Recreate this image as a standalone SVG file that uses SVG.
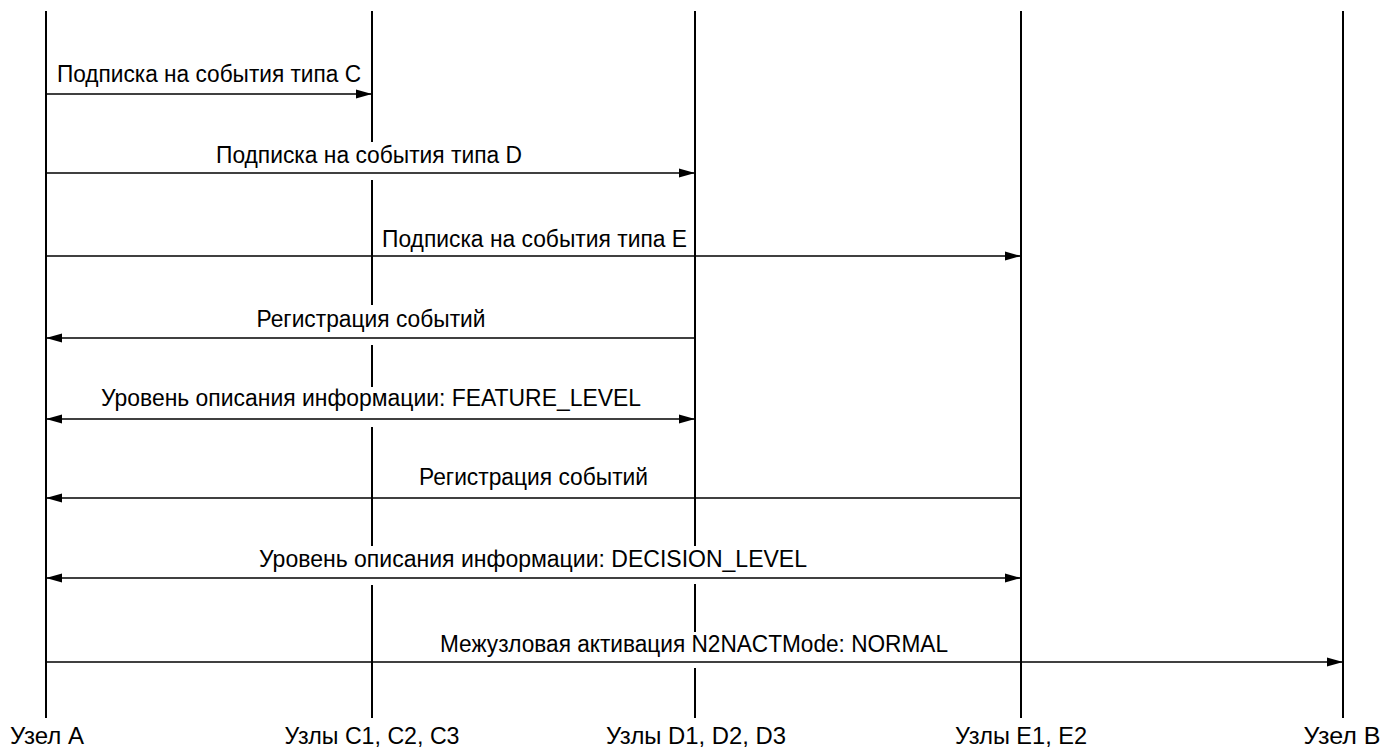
<svg xmlns="http://www.w3.org/2000/svg" width="1399" height="752" viewBox="0 0 1399 752">
<style>
.life{stroke:#000;stroke-width:2;fill:none}
.msg{stroke:#000;stroke-width:1.6;fill:none}
text{font-family:"Liberation Sans",Arial,sans-serif;font-size:23px;fill:#000}
.lbl{text-anchor:middle}
</style>
<defs>
<marker id="ah" markerUnits="userSpaceOnUse" markerWidth="18" markerHeight="12" refX="16" refY="5" orient="auto-start-reverse" viewBox="0 0 18 10">
<path d="M0,0.5 L16,5 L0,9.5 Z" fill="#000"/>
</marker>
</defs>
<rect width="1399" height="752" fill="#fff"/>
<g id="node-A">
<path class="life" d="M46,11 V718"/>
<text class="lbl" x="47" y="744" textLength="74" lengthAdjust="spacingAndGlyphs">Узел A</text>
</g>
<g id="node-C">
<path class="life" d="M372,11 V142 M372,180 V305 M372,345 V387 M372,427 V546 M372,585 V718"/>
<text class="lbl" x="372" y="744" textLength="175" lengthAdjust="spacingAndGlyphs">Узлы C1, C2, C3</text>
</g>
<g id="node-D">
<path class="life" d="M695,11 V546 M695,584 V632 M695,668 V718"/>
<text class="lbl" x="696" y="744" textLength="180" lengthAdjust="spacingAndGlyphs">Узлы D1, D2, D3</text>
</g>
<g id="node-E">
<path class="life" d="M1021,11 V718"/>
<text class="lbl" x="1021" y="744" textLength="132" lengthAdjust="spacingAndGlyphs">Узлы E1, E2</text>
</g>
<g id="node-B">
<path class="life" d="M1343,11 V718"/>
<text class="lbl" x="1342" y="744" textLength="77" lengthAdjust="spacingAndGlyphs">Узел B</text>
</g>
<g id="connectors">
<path class="msg" d="M46,94 H372" marker-end="url(#ah)"/>
<text class="lbl" x="209" y="82" textLength="304" lengthAdjust="spacingAndGlyphs">Подписка на события типа C</text>
<path class="msg" d="M46,173 H695" marker-end="url(#ah)"/>
<text class="lbl" x="369" y="163" textLength="306" lengthAdjust="spacingAndGlyphs">Подписка на события типа D</text>
<path class="msg" d="M46,256 H1021" marker-end="url(#ah)"/>
<text class="lbl" x="534.5" y="247" textLength="305" lengthAdjust="spacingAndGlyphs">Подписка на события типа E</text>
<path class="msg" d="M695,338 H46" marker-end="url(#ah)"/>
<text class="lbl" x="371" y="327" textLength="229" lengthAdjust="spacingAndGlyphs">Регистрация событий</text>
<path class="msg" d="M46,419 H695" marker-start="url(#ah)" marker-end="url(#ah)"/>
<text class="lbl" x="371" y="406" textLength="540" lengthAdjust="spacingAndGlyphs">Уровень описания информации: FEATURE_LEVEL</text>
<path class="msg" d="M1021,498 H46" marker-end="url(#ah)"/>
<text class="lbl" x="533.5" y="485" textLength="229" lengthAdjust="spacingAndGlyphs">Регистрация событий</text>
<path class="msg" d="M46,578 H1021" marker-start="url(#ah)" marker-end="url(#ah)"/>
<text class="lbl" x="533" y="567" textLength="548" lengthAdjust="spacingAndGlyphs">Уровень описания информации: DECISION_LEVEL</text>
<path class="msg" d="M46,662 H1343" marker-end="url(#ah)"/>
<text class="lbl" x="694" y="652" textLength="508" lengthAdjust="spacingAndGlyphs">Межузловая активация N2NACTMode: NORMAL</text>
</g>
</svg>
